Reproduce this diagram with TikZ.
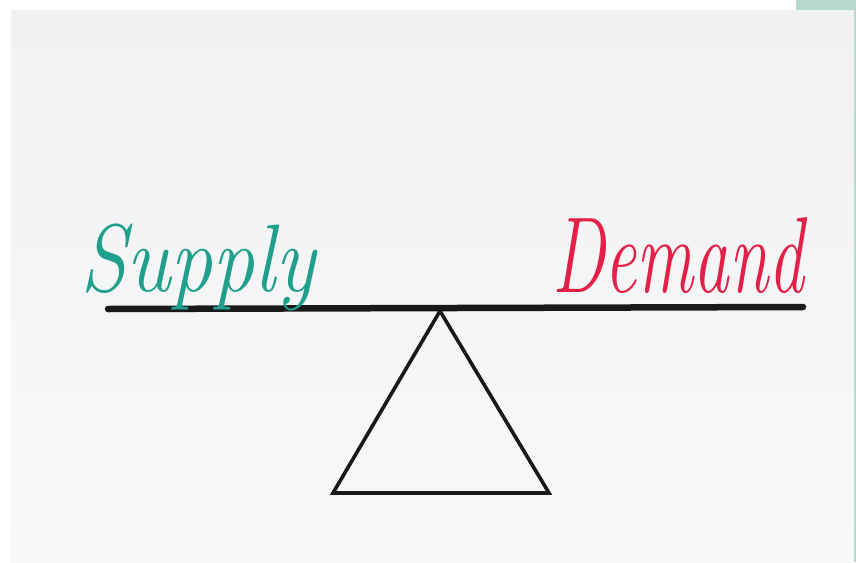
\documentclass[tikz,border=0pt]{standalone}
\usepackage{fontspec}
\definecolor{photobg}{RGB}{241,241,241}
\definecolor{photobot}{RGB}{247,249,251}
\definecolor{tealedge}{RGB}{182,216,206}
\definecolor{supplyc}{RGB}{32,160,140}
\definecolor{demandc}{RGB}{226,32,72}
\tikzset{
  hand/.style={inner sep=0pt, font=\fontsize{80}{80}\selectfont\itshape},
  beamline/.style={line width=6.5pt, line cap=round, black!90},
  fulcrum/.style={line width=3.6pt, line join=miter, black!90}
}
\begin{document}
\begin{tikzpicture}[x=1pt,y=-1pt]
\useasboundingbox (0,0) rectangle (856,562);
\fill[white] (0,0) rectangle (856,562);
\fill[tealedge] (796,0) rectangle (856,562);
\shade[top color=photobg, bottom color=photobot] (11,10) rectangle (854,562);
% beam and fulcrum
\coordinate (bl) at (108,309);
\coordinate (br) at (803,307);
\coordinate (apex) at (440,311);
\coordinate (b1) at (333,493);
\coordinate (b2) at (549,493);
\draw[fulcrum] (apex) -- (b2) -- (b1) -- cycle;
\draw[beamline] (bl) -- (br);
% labels
\node[hand, text=supplyc, anchor=base west, xscale=1.05, yscale=1.2] (supply) at (80,291) {Supply};
\node[hand, text=demandc, anchor=base west, xscale=0.89, yscale=1.35] (demand) at (552,292) {Demand};
\end{tikzpicture}
\end{document}
